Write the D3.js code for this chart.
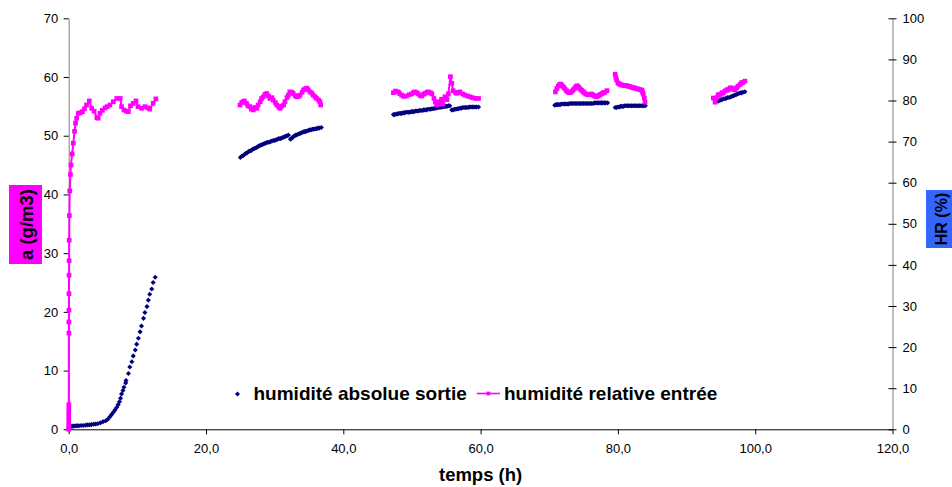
<!DOCTYPE html>
<html>
<head>
<meta charset="utf-8">
<script src="https://cdn.jsdelivr.net/npm/d3@7"></script>
<style>
body { margin: 0; background: #fff; }
text { font-family: "Liberation Sans", Arial, sans-serif; }
</style>
</head>
<body>
<svg id="chart" width="952" height="487"></svg>
<script>
// humidité absolue sortie (g/m3) -- [temps h, valeur], one array per recording run
var absRun1 = [[0.00,0.1],[0.05,0.3],[0.10,0.4],[0.20,0.45],[0.35,0.5],[0.5,0.5],[0.7,0.55],[0.9,0.55],[1.1,0.6],[1.3,0.6],[1.5,0.6],[1.8,0.65],[2.1,0.65],[2.4,0.7],[2.7,0.75],[3.0,0.75],[3.3,0.8],[3.6,0.85],[3.9,0.9],[4.2,0.95],[4.6,1.1],[5.0,1.3],[5.4,1.45],[5.7,1.7],[6.0,2.15],[6.25,2.5],[6.5,2.9],[6.75,3.3],[7.0,3.75],[7.2,4.2],[7.4,4.7],[7.55,5.3],[7.7,6.0],[7.9,6.6],[8.05,7.15],[8.3,7.9],[8.35,8.3],[8.7,9.5],[8.9,10.6],[9.2,11.5],[9.4,12.5],[9.7,13.5],[9.9,14.5],[10.15,15.5],[10.4,16.6],[10.6,17.6],[10.9,18.9],[11.1,19.9],[11.4,20.9],[11.6,22.0],[11.8,23.0],[12.1,23.9],[12.3,25.0],[12.6,25.9]];
var absRun2 = [[25.0,46.3],[25.2,46.5],[25.4,46.6],[25.6,46.8],[25.8,47.0],[26.0,47.1],[26.2,47.3],[26.4,47.4],[26.6,47.5],[26.8,47.7],[27.0,47.8],[27.2,47.9],[27.4,48.0],[27.6,48.2],[27.8,48.3],[28.0,48.4],[28.2,48.5],[28.4,48.6],[28.6,48.7],[28.8,48.8],[29.0,48.9],[29.2,48.9],[29.4,49.0],[29.6,49.1],[29.8,49.2],[30.0,49.2],[30.2,49.3],[30.4,49.4],[30.6,49.5],[30.8,49.5],[31.0,49.6],[31.2,49.7],[31.4,49.8],[31.6,49.9],[31.8,50.0],[32.0,50.1]];
var absRun3 = [[32.3,49.4],[32.5,49.6],[32.7,49.8],[32.9,50.0],[33.1,50.1],[33.3,50.2],[33.5,50.3],[33.7,50.4],[33.9,50.5],[34.1,50.6],[34.3,50.7],[34.5,50.7],[34.7,50.8],[34.9,50.9],[35.1,51.0],[35.3,51.0],[35.5,51.1],[35.7,51.1],[35.9,51.2],[36.1,51.2],[36.3,51.3],[36.5,51.3],[36.8,51.4]];
var absRun4 = [[47.3,53.6],[47.5,53.6],[47.7,53.7],[47.9,53.7],[48.1,53.8],[48.3,53.8],[48.5,53.8],[48.7,53.9],[48.9,53.9],[49.1,54.0],[49.3,54.0],[49.5,54.0],[49.7,54.0],[49.9,54.1],[50.1,54.1],[50.3,54.1],[50.5,54.2],[50.7,54.2],[50.9,54.2],[51.1,54.3],[51.3,54.3],[51.5,54.3],[51.7,54.4],[51.9,54.4],[52.1,54.4],[52.3,54.5],[52.5,54.5],[52.7,54.5],[52.9,54.6],[53.1,54.6],[53.3,54.7],[53.5,54.7],[53.7,54.8],[53.9,54.8],[54.1,54.8],[54.3,54.9],[54.5,54.9],[54.7,55.0],[54.9,55.0],[55.1,55.0],[55.3,55.1],[55.5,55.1]];
var absRun5 = [[55.8,54.4],[56.0,54.4],[56.2,54.5],[56.4,54.5],[56.6,54.6],[56.8,54.6],[57.0,54.7],[57.2,54.7],[57.4,54.8],[57.6,54.8],[57.8,54.8],[58.0,54.8],[58.2,54.8],[58.4,54.9],[58.6,54.9],[58.8,54.9],[59.0,54.9],[59.2,54.9],[59.4,54.9],[59.7,54.9]];
var absRun6 = [[70.8,55.2],[71.0,55.3],[71.2,55.3],[71.4,55.3],[71.6,55.3],[71.8,55.4],[72.0,55.4],[72.2,55.4],[72.4,55.4],[72.6,55.4],[72.8,55.4],[73.0,55.5],[73.2,55.5],[73.4,55.5],[73.6,55.5],[73.8,55.5],[74.0,55.5],[74.2,55.5],[74.4,55.5],[74.6,55.5],[74.8,55.5],[75.0,55.5],[75.2,55.5],[75.4,55.5],[75.6,55.5],[75.8,55.5],[76.0,55.5],[76.2,55.5],[76.4,55.5],[76.6,55.6],[76.8,55.6],[77.0,55.6],[77.2,55.6],[77.4,55.6],[77.6,55.6],[77.8,55.6],[78.0,55.6],[78.2,55.6],[78.5,55.6]];
var absRun7 = [[79.6,54.8],[79.8,54.8],[80.0,54.9],[80.2,54.9],[80.4,55.0],[80.6,55.0],[80.8,55.0],[81.0,55.1],[81.2,55.1],[81.4,55.1],[81.6,55.1],[81.8,55.1],[82.0,55.1],[82.2,55.1],[82.4,55.1],[82.6,55.1],[82.8,55.1],[83.0,55.1],[83.2,55.1],[83.4,55.1],[83.6,55.1],[83.8,55.1],[84.0,55.1]];
var absRun8 = [[94.6,55.9],[94.8,56.0],[95.0,56.1],[95.2,56.2],[95.4,56.3],[95.6,56.3],[95.8,56.4],[96.0,56.5],[96.2,56.5],[96.4,56.6],[96.6,56.7],[96.8,56.8],[97.0,56.9],[97.2,57.0],[97.4,57.1],[97.6,57.2],[97.8,57.3],[98.0,57.3],[98.2,57.4],[98.5,57.5]];

// humidité relative entrée (%) -- [temps h, valeur]
var relRun1 = [[0.00,0],[0.00,1],[0.01,2],[0.01,3],[0.01,4],[0.02,5],[0.02,6],[0.03,23.4],[0.03,26.1],[0.04,29],[0.04,33],[0.05,37.5],[0.06,41],[0.07,46],[0.10,52],[0.15,58],[0.25,62],[0.33,64.3],[0.5,67],[0.67,69.6],[0.85,72.5],[1.0,74.5],[1.16,75.7],[1.4,76.9],[1.7,77.0],[2.0,77.3],[2.3,78.0],[2.6,78.9],[3.0,79.9],[3.35,78.1],[3.7,77.4],[4.1,75.8],[4.3,75.7],[4.55,76.9],[4.9,77.6],[5.3,78.2],[5.6,78.5],[6.0,78.9],[6.5,79.7],[7.0,80.5],[7.5,80.5],[7.7,78.5],[8.05,77.7],[8.4,77.4],[8.7,77.3],[9.0,78.7],[9.4,79.3],[9.8,79.9],[10.1,78.5],[10.6,78.1],[11.1,78.5],[11.5,78.2],[11.8,77.9],[12.3,79.3],[12.7,80.4]];
var relRun2 = [[24.96,78.9],[25.2,79.5],[25.4,79.7],[25.6,79.9],[25.9,79.3],[26.1,78.7],[26.4,78.5],[26.6,77.9],[26.9,77.7],[27.1,78.3],[27.4,78.1],[27.6,78.9],[27.9,79.7],[28.1,80.5],[28.35,80.9],[28.6,81.5],[28.85,81.7],[29.1,81.1],[29.3,80.5],[29.6,80.7],[29.8,80.1],[30.1,79.5],[30.3,78.9],[30.6,78.4],[30.8,78.1],[31.0,78.6],[31.3,78.9],[31.5,79.7],[31.8,80.7],[32.0,81.3],[32.2,82.1],[32.5,82.0],[32.7,81.7],[33.0,81.2],[33.2,80.9],[33.5,81.0],[33.7,81.3],[34.0,82.0],[34.2,82.6],[34.5,82.9],[34.7,83.0],[34.9,82.6],[35.15,82.1],[35.4,81.8],[35.6,81.3],[35.9,80.9],[36.1,80.5],[36.4,80.1],[36.6,79.7],[36.7,78.9]];
var relRun3 = [[47.3,81.9],[47.6,82.3],[48.0,82.1],[48.2,81.7],[48.5,81.3],[48.8,81.0],[49.2,81.1],[49.6,81.4],[49.95,81.6],[50.2,81.9],[50.4,82.1],[50.7,81.9],[50.9,81.6],[51.2,81.2],[51.4,81.1],[51.7,81.5],[51.9,81.75],[52.2,82.0],[52.4,82.1],[52.7,81.9],[52.9,81.6],[53.2,80.5],[53.4,79.6],[53.6,78.9],[53.8,79.7],[54.0,79.1],[54.3,80.3],[54.5,79.2],[54.8,80.9],[55.1,80.2],[55.3,81.6],[55.6,85.8],[55.8,84.2],[56.0,82.4],[56.3,82.0],[56.5,81.75],[56.8,81.9],[57.0,82.1],[57.4,81.6],[57.7,81.3],[58.1,81.1],[58.45,80.9],[58.8,80.7],[59.2,80.5],[59.7,80.5]];
var relRun4 = [[70.9,82.1],[71.1,82.9],[71.3,83.5],[71.5,83.9],[71.7,84.0],[71.9,83.6],[72.1,83.2],[72.3,82.8],[72.5,82.4],[72.7,82.1],[72.9,81.9],[73.1,82.0],[73.3,82.2],[73.5,82.6],[73.7,83.0],[73.9,83.4],[74.1,83.6],[74.3,83.2],[74.5,82.8],[74.7,82.5],[74.9,82.2],[75.1,81.9],[75.3,81.6],[75.5,81.5],[75.7,81.4],[75.9,81.5],[76.1,81.6],[76.3,81.4],[76.5,81.2],[76.7,81.0],[76.9,80.9],[77.1,81.1],[77.3,81.3],[77.5,81.5],[77.7,81.7],[77.9,81.9],[78.1,82.0],[78.4,82.4]];
var relRun5 = [[79.6,86.4],[79.7,85.6],[79.8,85.0],[80.0,84.3],[80.15,84.1],[80.3,83.9],[80.5,83.8],[80.7,83.7],[80.9,83.7],[81.1,83.6],[81.3,83.6],[81.5,83.5],[81.7,83.4],[81.9,83.3],[82.1,83.2],[82.3,83.1],[82.5,83.0],[82.7,82.9],[82.9,82.8],[83.1,82.7],[83.3,82.6],[83.5,82.5],[83.6,82.0],[83.7,81.5],[83.85,80.6],[83.95,79.6]];
var relRun6 = [[93.9,80.6],[94.15,79.6],[94.4,80.7],[94.6,81.4],[94.8,81.3],[95.0,81.6],[95.2,81.9],[95.35,81.8],[95.6,82.3],[95.85,82.6],[96.0,82.5],[96.2,82.8],[96.4,83.1],[96.6,83.0],[96.8,82.7],[97.06,82.6],[97.3,83.1],[97.5,83.5],[97.8,83.9],[98.0,84.3],[98.2,84.4],[98.5,84.7]];

var absRuns = [absRun1, absRun2, absRun3, absRun4, absRun5, absRun6, absRun7, absRun8];
var relRuns = [relRun1, relRun2, relRun3, relRun4, relRun5, relRun6];

var xTicks = [0, 20, 40, 60, 80, 100, 120];
var leftTicks = [0, 10, 20, 30, 40, 50, 60, 70];
var rightTicks = [0, 10, 20, 30, 40, 50, 60, 70, 80, 90, 100];
var seriesNames = ["humidité absolue sortie", "humidité relative entrée"];
var xTitle = "temps (h)";
var leftTitle = "a (g/m3)";
var rightTitle = "HR (%)";

var NAVY = "#000080", PINK = "#ff00ff", BLUE = "#3366ff";

var svg = d3.select("#chart");
var plot = { left: 68.7, right: 892.5, top: 18.3, bottom: 429.3 };

var x = d3.scaleLinear().domain([0, 120]).range([plot.left, plot.right]);
var yL = d3.scaleLinear().domain([0, 70]).range([plot.bottom, plot.top]);
var yR = d3.scaleLinear().domain([0, 100]).range([plot.bottom, plot.top]);

var fr = d3.formatLocale({ decimal: ",", thousands: " ", grouping: [3], currency: ["", ""] });
var fmt1 = fr.format(".1f");

// axes
var gx = svg.append("g")
    .attr("transform", "translate(0," + plot.bottom + ")")
    .call(d3.axisBottom(x).tickValues(xTicks).tickSize(5).tickSizeOuter(0).tickPadding(9.5).tickFormat(fmt1));
gx.select(".domain").attr("stroke", "#000");

var gl = svg.append("g")
    .attr("transform", "translate(" + plot.left + ",0)")
    .call(d3.axisLeft(yL).tickValues(leftTicks).tickSize(5).tickSizeOuter(0).tickPadding(5.5));
gl.select(".domain").attr("stroke", "#808080");

var gr = svg.append("g")
    .attr("transform", "translate(" + plot.right + ",0)")
    .call(d3.axisRight(yR).tickValues(rightTicks).tickSize(4).tickSizeOuter(0).tickPadding(6));
gr.select(".domain").attr("stroke", "#808080");
gr.selectAll(".tick line").attr("x1", -4);

svg.selectAll(".tick line").attr("stroke", "#000");
svg.selectAll(".tick text").attr("fill", "#000").style("font-size", "13px")
    .style("font-family", "'Liberation Sans', Arial, sans-serif");

// excel-like markers: diamond = square turned 45deg
var diamond = d3.symbol().type(d3.symbolSquare).size(13);
var square = d3.symbol().type(d3.symbolSquare).size(22);

// series: absolute humidity (dots only, left axis)
var absPts = absRuns.reduce(function (a, r) { return a.concat(r); }, []);
svg.append("g").selectAll("path")
    .data(absPts)
    .enter().append("path")
    .attr("d", diamond)
    .attr("transform", function (d) { return "translate(" + x(d[0]) + "," + yL(d[1]) + ") rotate(45)"; })
    .attr("fill", NAVY);

// series: relative humidity (line + squares, right axis)
var line = d3.line()
    .x(function (d) { return x(d[0]); })
    .y(function (d) { return yR(d[1]); });

svg.append("g").selectAll("path")
    .data(relRuns)
    .enter().append("path")
    .attr("d", line)
    .attr("fill", "none")
    .attr("stroke", PINK)
    .attr("stroke-width", 2);

var relPts = relRuns.reduce(function (a, r) { return a.concat(r); }, []);
svg.append("g").selectAll("path")
    .data(relPts)
    .enter().append("path")
    .attr("d", square)
    .attr("transform", function (d) { return "translate(" + x(d[0]) + "," + yR(d[1]) + ")"; })
    .attr("fill", PINK);

// axis titles
svg.append("text")
    .attr("x", (plot.left + plot.right) / 2)
    .attr("y", 480.5)
    .attr("text-anchor", "middle")
    .style("font-size", "18.5px").style("font-weight", "bold")
    .text(xTitle);

svg.append("rect").attr("x", 9).attr("y", 185).attr("width", 33).attr("height", 79).attr("fill", PINK);
svg.append("text")
    .attr("transform", "translate(27,224.5) rotate(-90)")
    .attr("text-anchor", "middle")
    .attr("dy", "0.35em")
    .style("font-size", "18.5px").style("font-weight", "bold")
    .text(leftTitle);

svg.append("rect").attr("x", 926).attr("y", 190).attr("width", 30).attr("height", 58).attr("fill", BLUE);
svg.append("text")
    .attr("transform", "translate(941,219) rotate(-90)")
    .attr("text-anchor", "middle")
    .attr("dy", "0.35em")
    .style("font-size", "16px").style("font-weight", "bold")
    .text(rightTitle);

// legend
var lg = svg.append("g");
lg.append("path").attr("d", diamond).attr("transform", "translate(237.5,394) rotate(45)").attr("fill", NAVY);
lg.append("text").attr("x", 253.5).attr("y", 399.5)
    .style("font-size", "19px").style("font-weight", "bold").text(seriesNames[0]);
lg.append("line").attr("x1", 476.8).attr("x2", 500).attr("y1", 393.5).attr("y2", 393.5)
    .attr("stroke", PINK).attr("stroke-width", 1.6);
lg.append("path").attr("d", d3.symbol().type(d3.symbolSquare).size(14)).attr("transform", "translate(488.4,393.5)").attr("fill", PINK);
lg.append("text").attr("x", 504).attr("y", 399.5)
    .style("font-size", "19px").style("font-weight", "bold").text(seriesNames[1]);
</script>
</body>
</html>
